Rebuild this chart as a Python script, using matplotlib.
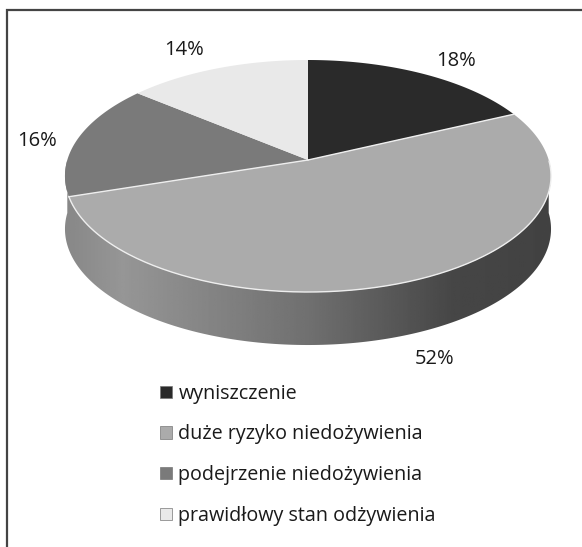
import numpy as np
import matplotlib
matplotlib.use('Agg')
import matplotlib.pyplot as plt
from matplotlib.patches import Patch, Polygon

categories = ['wyniszczenie', 'duże ryzyko niedożywienia',
              'podejrzenie niedożywienia', 'prawidłowy stan odżywienia']
values = [18, 52, 16, 14]
colors = ['#2a2a2a', '#ababab', '#7a7a7a', '#e9e9e9']

# pie geometry, in pixels of the picture
cx, cy = 308, 160
rx, ry = 240.7, 113.8
persp = 0.138
depth = 53
# label spots, same order as the values
label_xy = [(456, 61), (435, 359), (37, 141), (184, 50)]


def project(ang):
    # ang is clockwise from 12 o'clock
    u, v = np.sin(ang), np.cos(ang)
    w = 1 + persp * v
    return cx + rx * u / w, cy - ry * v / w


plt.rcParams['font.family'] = 'Open Sans'
fig = plt.figure(figsize=(5.82, 5.47), dpi=100)
ax = fig.add_axes([0, 0, 1, 1])
ax.set_xlim(0, 582)
ax.set_ylim(547, 0)
ax.axis('off')

# frame: only top and left show in the crop
ax.plot([582, 6.5, 6.5], [10, 10, 547], color='#444444', lw=1.6, zorder=0, solid_joinstyle='miter')

# side wall, gradient clipped to the front half of the rim
t = np.linspace(np.pi * 0.5, np.pi * 1.5, 200)
xr, yr = project(t)
wall = np.r_[np.c_[xr, yr], np.c_[xr[::-1], yr[::-1] + depth]]
clip = Polygon(wall, closed=True, transform=ax.transData, fc='none', ec='none')
ax.add_patch(clip)
grad = np.interp(np.linspace(0, 1, 256), [0, 0.12, 0.5, 0.8, 1], [135, 150, 112, 70, 66])
im = ax.imshow(grad[None, :], cmap='gray', vmin=0, vmax=255, aspect='auto',
               extent=(cx - 245, cx + 245, 400, 150), zorder=1)
im.set_clip_path(clip)
ax.set_xlim(0, 582)
ax.set_ylim(547, 0)

# top of the pie
edges = np.cumsum([0] + values) / sum(values) * 2 * np.pi
for i in range(len(values)):
    t = np.linspace(edges[i], edges[i + 1], 150)
    xs, ys = project(t)
    ax.fill(np.r_[cx, xs], np.r_[cy, ys], color=colors[i], lw=0, zorder=2)
    ax.text(label_xy[i][0], label_xy[i][1], f'{values[i]}%', fontsize=14.5,
            color='#1a1a1a', ha='center', va='center', zorder=4)

# light lines either side of the big slice and along its front rim
for e in (edges[1], edges[2]):
    xe, ye = project(e)
    ax.plot([cx, xe], [cy, ye], color='#eeeeee', lw=1.0, zorder=3)
xs, ys = project(np.linspace(edges[1] + 0.45, edges[2], 200))
ax.plot(xs, ys, color='#eeeeee', lw=1.0, zorder=3)

handles = [Patch(fc=c, ec='#777777', lw=0.5) for c in colors]
ax.legend(handles, categories, loc='upper left', bbox_to_anchor=(142 / 582, 1 - 366 / 547),
          frameon=False, fontsize=14.2, labelspacing=1.05, handlelength=0.6, handleheight=0.6,
          handletextpad=0.35, labelcolor='#1a1a1a')

fig.savefig('out.png', dpi=100)
